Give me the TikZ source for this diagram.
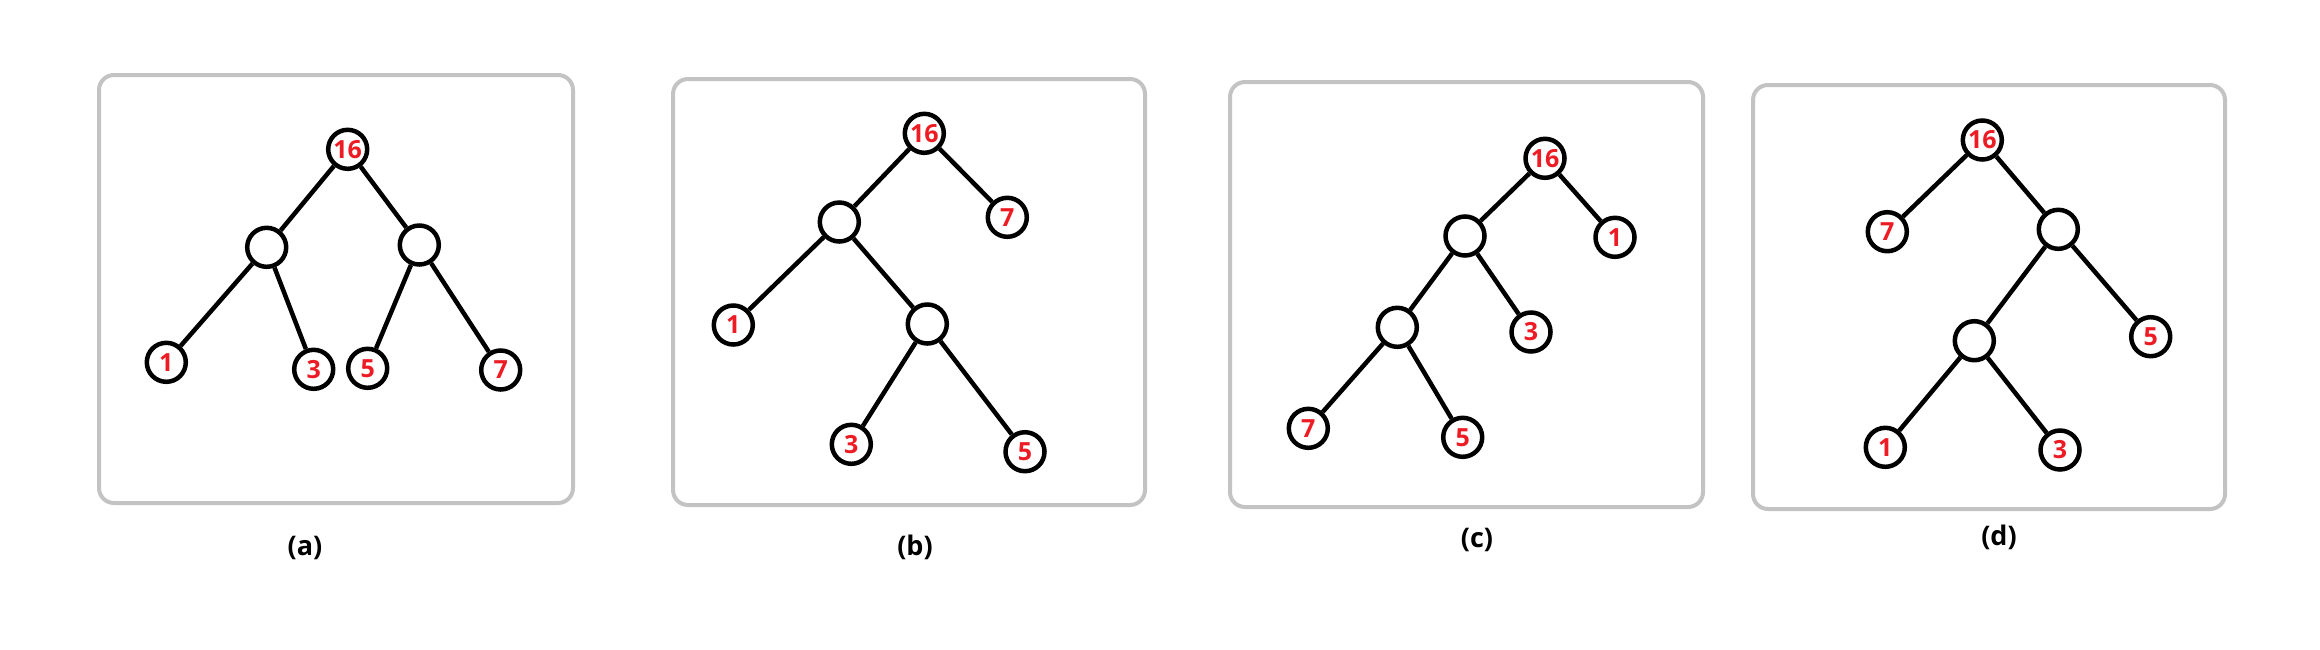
\documentclass[tikz,border=0pt]{standalone}
\usepackage{fontspec}
\setmainfont{Open Sans}
\definecolor{nodered}{RGB}{237,28,36}
\definecolor{boxgray}{RGB}{195,195,195}
\begin{document}
\begin{tikzpicture}[x=1pt,y=-1pt,
  tn/.style={circle,draw=black,line width=4.5pt,minimum size=39pt,inner sep=0pt,
    font=\bfseries\fontsize{25}{25}\selectfont,text=nodered,fill=white},
  edge/.style={line width=4.5pt,black},
  panel/.style={draw=boxgray,line width=4pt,rounded corners=15pt},
  captext/.style={font=\bfseries\fontsize{27}{27}\selectfont,text=black}]
\useasboundingbox (0,0) rectangle (2320,649);
% panel frames
\draw[panel] (99,75) rectangle (573,503);
\draw[panel] (673,79) rectangle (1145,505);
\draw[panel] (1230,82) rectangle (1703,507);
\draw[panel] (1753,85) rectangle (2225,509);
% (a)
\node[tn] (a16) at (347.7,149.3) {16};
\node[tn] (aL) at (266.7,247.3) {};
\node[tn] (aR) at (419.3,245) {};
\node[tn] (a1) at (166.3,362.3) {1};
\node[tn] (a3) at (313.7,369.3) {3};
\node[tn] (a5) at (367.7,368.3) {5};
\node[tn] (a7) at (500.7,370) {7};
\draw[edge] (a16) -- (aL);
\draw[edge] (a16) -- (aR);
\draw[edge] (aL) -- (a1);
\draw[edge] (aL) -- (a3);
\draw[edge] (aR) -- (a5);
\draw[edge] (aR) -- (a7);
\node[captext] (capa) at (305,548) {(a)};
% (b)
\node[tn] (b16) at (924.3,133.3) {16};
\node[tn] (bL) at (839.3,222) {};
\node[tn] (b7) at (1007.3,217.3) {7};
\node[tn] (b1) at (733.3,325) {1};
\node[tn] (bM) at (927.3,324) {};
\node[tn] (b3) at (851.3,444.3) {3};
\node[tn] (b5) at (1025,451.7) {5};
\draw[edge] (b16) -- (bL);
\draw[edge] (b16) -- (b7);
\draw[edge] (bL) -- (b1);
\draw[edge] (bL) -- (bM);
\draw[edge] (bM) -- (b3);
\draw[edge] (bM) -- (b5);
\node[captext] (capb) at (915,547) {(b)};
% (c)
\node[tn] (c16) at (1545,158.3) {16};
\node[tn] (cA) at (1465,236) {};
\node[tn] (c1) at (1615,237.3) {1};
\node[tn] (cB) at (1397.3,327.3) {};
\node[tn] (c3) at (1531,332) {3};
\node[tn] (c7) at (1308.3,428.3) {7};
\node[tn] (c5) at (1462.7,437.3) {5};
\draw[edge] (c16) -- (cA);
\draw[edge] (c16) -- (c1);
\draw[edge] (cA) -- (cB);
\draw[edge] (cA) -- (c3);
\draw[edge] (cB) -- (c7);
\draw[edge] (cB) -- (c5);
\node[captext] (capc) at (1477,540) {(c)};
% (d)
\node[tn] (d16) at (1982.3,140) {16};
\node[tn] (d7) at (1887.3,231.7) {7};
\node[tn] (dA) at (2058.3,229.3) {};
\node[tn] (dB) at (1974.3,340.7) {};
\node[tn] (d5) at (2150.7,336.7) {5};
\node[tn] (d1) at (1885.3,447.3) {1};
\node[tn] (d3) at (2060,450) {3};
\draw[edge] (d16) -- (d7);
\draw[edge] (d16) -- (dA);
\draw[edge] (dA) -- (dB);
\draw[edge] (dA) -- (d5);
\draw[edge] (dB) -- (d1);
\draw[edge] (dB) -- (d3);
\node[captext] (capd) at (1999,537) {(d)};
\end{tikzpicture}
\end{document}
